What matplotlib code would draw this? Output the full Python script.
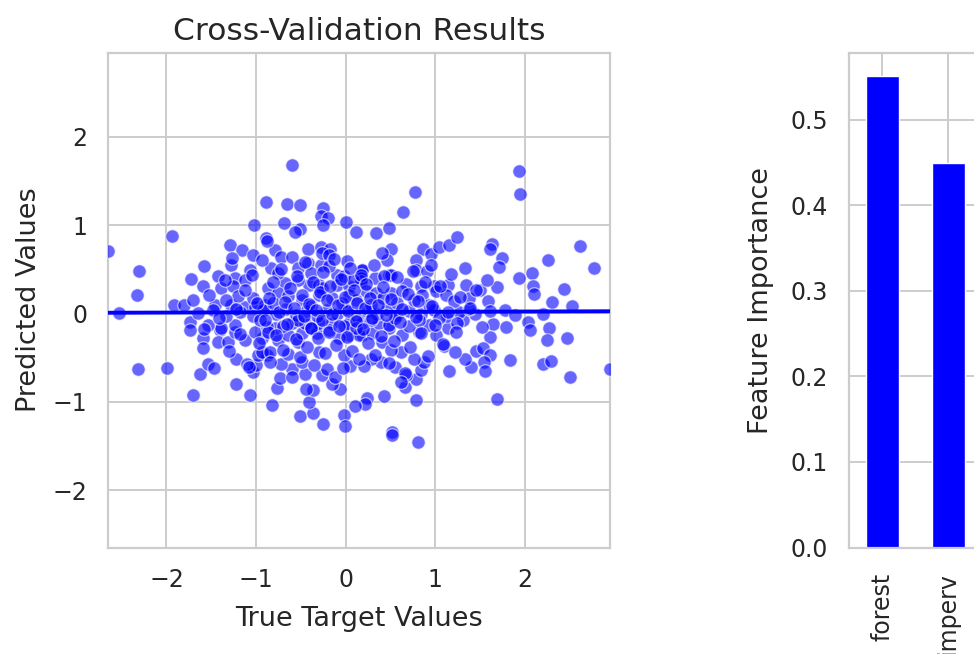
#!/usr/bin/env python3
"""
Cross-validation scatter (true vs predicted) with a linear fit,
plus a feature-importance bar chart that runs off the right edge.
"""

import matplotlib
matplotlib.use("Agg")
import matplotlib.pyplot as plt
import numpy as np
import seaborn as sns

# true target values (x) and cross-validated predictions (y)
true_vals = [
    -0.603, -0.890, -0.659, -0.513, -0.258, -0.273, -0.199, -1.018, -0.688, 0.003,
    0.112, -0.513, -0.565, -0.258, -1.938, -0.890, -2.649, -1.287, -1.156, -1.033,
    -0.789, -0.722, -0.603, -0.423, -0.273, -0.180, -2.304, -1.582, -1.725, -1.276,
    -1.070, -0.838, -0.535, -0.423, -0.273, -0.098, 0.015, -2.331, 1.930, 1.945,
    0.774, 0.643, 0.340, 0.483, 0.502, 0.864, 0.951, 1.036, 1.156, 1.242,
    1.635, 1.605, 1.747, 1.709, 1.328, 0.789, 0.789, 0.912, 0.457, 0.176,
    2.615, 2.252, 2.775, 2.073, 1.930, 2.084, 2.435, 1.691, 1.501, 1.343,
    1.137, 0.325, 0.483, 0.670, 0.838, 0.980, 2.099, 2.297, 2.525, 1.586,
    1.773, 2.203, 2.035, 2.054, 1.642, 1.785, 2.267, 2.248, 2.469, 1.605,
    1.456, 1.530, 1.605, 1.538, 1.833, 1.400, 1.549, 1.148, 1.100, 2.203,
    2.290, 2.506, 2.952, 1.691, 1.007, 1.137, 1.313, 0.789, 0.426, 0.239,
    0.213, 0.109, -0.022, -0.011, 0.513, 0.520, 0.808, 0.662, 0.782, 0.838,
    0.875, 0.670, 0.550, 0.763, 0.614, 0.389, 0.277, 0.202, 0.053, -0.059,
    -0.022, 0.407, 0.819, -2.529, -2.323, -1.994, -1.706, -1.631, -1.538, -1.220,
    -1.070, -1.220, -1.033, -0.823, -0.763, -0.733, -0.508, -0.367, -0.258, -0.407,
    -0.370, -0.452, -0.603, -0.722, -0.996, -0.883, -0.976, -1.100, -0.266, -0.154,
    -0.210, -0.303, -1.594, -1.594, -1.406, -1.425, -1.313, -1.743, -1.743, -1.911,
    -1.799, -1.706, -1.238, -1.126, -0.939, -0.752, -0.640, -0.527, -0.789, -1.425,
    -1.238, -1.126, -1.594, -1.388, -1.257, -0.864, -1.462, -1.276, -1.126, -1.013,
    -0.901, -1.238, -1.388, -1.538, -1.013, -0.883, -0.939, -0.845, -0.266, -0.191,
    0.183, 0.172, 0.172, 0.502, 0.426, -0.677, -0.415, -0.303, -0.266, -0.098,
    0.034, -0.752, -0.490, -0.303, 0.034, 0.221, 0.333, 0.502, 0.632, 0.856,
    1.007, 1.119, -0.116, -0.490, -0.640, 0.502, 0.183, 0.295, 0.483, 0.632,
    0.034, 0.146, -0.079, -0.322, -0.490, -0.864, -0.603, -0.452, -0.303, -0.154,
    0.034, 0.183, 0.370, 0.483, 0.707, 0.932, -1.650, -1.481, -1.336, -1.178,
    -1.033, -0.920, -0.774, -0.662, -0.550, -0.438, -0.325, -0.213, -0.101, 0.011,
    0.123, 0.236, 0.348, 0.460, 0.572, 0.707, 0.842, 0.988, 1.134, 1.268,
    1.437, 1.605, 1.380, 1.886, -1.033, -0.808, -0.640, -0.382, -0.157, -0.045,
    0.112, 0.281, 0.415, 0.572, 0.763, 0.932, 1.212, 1.380, -0.954, -0.696,
    -0.527, -0.393, -0.191, -0.022, 0.112, 0.281, 0.550, 0.819, 1.044, 1.246,
    -1.201, -1.336, -0.527, -0.752, -0.393, -0.022, 0.079, -0.191,
    # dense core
    -1.52, -1.41, -1.35, -1.30, -1.22, -1.18, -1.12, -1.08, -1.05, -0.99,
    -0.97, -0.93, -0.90, -0.86, -0.84, -0.81, -0.78, -0.75, -0.72, -0.70,
    -0.68, -0.65, -0.62, -0.60, -0.58, -0.56, -0.54, -0.51, -0.49, -0.47,
    -0.45, -0.43, -0.41, -0.39, -0.37, -0.35, -0.33, -0.31, -0.29, -0.27,
    -0.25, -0.23, -0.21, -0.19, -0.17, -0.15, -0.13, -0.11, -0.09, -0.07,
    -0.05, -0.03, -0.01, 0.01, 0.03, 0.05, 0.07, 0.09, 0.11, 0.13,
    0.15, 0.17, 0.19, 0.21, 0.23, 0.25, 0.27, 0.29, 0.31, 0.33,
    0.36, 0.39, 0.42, 0.45, 0.48, 0.51, 0.54, 0.57, 0.60, 0.63,
    0.66, 0.69, 0.72, 0.75, 0.78, 0.81, 0.84, 0.88, 0.92, 0.96,
    1.00, 1.05, 1.09, 1.14, 1.18, 1.23, 1.28, 1.33, 1.39, 1.45,
    1.52, 1.58, -1.58, -1.47, -1.27, -0.88, 0.41, 0.62, -0.44, 0.95,
    1.22,
]
pred_vals = [
    1.681, 1.261, 1.233, 1.226, 1.196, 1.101, 1.074, 1.006, 1.025, 1.033,
    0.919, 0.957, 0.919, 1.006, 0.877, 0.854, 0.710, 0.771, 0.714, 0.658,
    0.721, 0.638, 0.638, 0.733, 0.752, 0.733, 0.476, 0.532, 0.391, 0.551,
    0.494, 0.513, 0.513, 0.567, 0.551, 0.430, 0.589, 0.209, 1.609, 1.352,
    1.374, 1.150, 0.911, 0.968, 0.733, 0.733, 0.672, 0.752, 0.771, 0.862,
    0.790, 0.733, 0.627, 0.521, 0.513, 0.608, 0.494, 0.476, 0.608, 0.494,
    0.767, 0.604, 0.513, 0.456, 0.399, 0.305, 0.271, 0.294, 0.263, 0.323,
    0.323, 0.399, 0.437, 0.331, 0.305, 0.305, 0.221, 0.126, 0.089, 0.146,
    0.039, -0.007, -0.101, -0.189, -0.116, -0.150, -0.166, -0.303, -0.280, -0.264,
    -0.428, -0.389, -0.473, -0.548, -0.522, -0.610, -0.647, -0.647, -0.371, -0.568,
    -0.542, -0.724, -0.633, -0.974, -0.246, -0.170, -0.075, -0.977, -0.940, -0.955,
    -1.023, -1.049, -1.145, -1.270, -1.345, -1.372, -1.455, -0.833, -0.738, -0.644,
    -0.548, -0.701, -0.605, -0.511, -0.435, -0.548, -0.519, -0.594, -0.594, -0.852,
    -0.473, -0.321, -0.207, 0.001, -0.625, -0.613, -0.920, -0.689, -0.568, -0.795,
    -0.920, -0.511, -0.662, -1.031, -0.844, -0.730, -1.156, -1.125, -1.250, -1.003,
    -0.871, -0.681, -0.625, -0.571, -0.587, -0.473, -0.473, -0.568, -0.701, -0.795,
    -0.625, -0.435, -0.283, -0.389, -0.189, -0.321, -0.321, -0.093, -0.189, 0.096,
    0.096, 0.152, -0.207, -0.303, -0.283, -0.303, -0.246, -0.321, -0.170, 0.419,
    0.399, 0.380, 0.305, 0.286, 0.305, 0.286, 0.096, 0.096, 0.077, 0.077,
    0.096, -0.132, -0.170, -0.132, -0.207, -0.150, -0.435, -0.435, 0.684, 0.664,
    0.494, 0.399, 0.362, 0.437, 0.419, 0.342, 0.323, 0.323, 0.286, 0.323,
    0.305, 0.229, 0.152, 0.209, 0.209, 0.248, 0.229, 0.229, 0.248, 0.209,
    0.248, 0.209, -0.719, -0.548, -0.454, -0.416, -0.246, -0.226, -0.170, -0.246,
    -0.246, -0.246, -0.283, -0.226, -0.226, -0.207, -0.113, -0.113, -0.113, -0.113,
    -0.113, -0.113, -0.113, -0.132, -0.147, -0.132, 0.001, 0.035, -0.033, 0.013,
    -0.033, 0.035, -0.010, 0.047, -0.022, 0.024, -0.033, 0.035, -0.010, 0.047,
    -0.033, 0.024, -0.010, 0.047, -0.022, 0.024, -0.010, 0.035, -0.033, 0.013,
    -0.010, 0.024, 0.047, -0.022, 0.172, 0.115, 0.195, 0.081, 0.172, 0.115,
    0.149, 0.092, 0.172, 0.115, 0.149, 0.092, 0.138, 0.172, -0.078, -0.146,
    -0.078, -0.169, -0.192, -0.146, -0.169, -0.078, -0.056, -0.078, -0.056, -0.113,
    0.195, 0.149, 0.377, 0.456, 0.456, 0.422, 0.377, 0.536,
    # dense core
    0.21, -0.05, 0.38, -0.42, 0.05, -0.23, 0.27, -0.61, 0.44, 0.12,
    -0.33, 0.61, -0.07, 0.18, -0.55, 0.35, -0.24, 0.02, 0.50, -0.41,
    0.13, -0.12, 0.29, -0.72, 0.06, -0.29, 0.42, -0.49, 0.21, -0.03,
    0.58, -0.38, 0.11, -0.17, 0.36, -0.58, 0.04, -0.28, 0.24, -0.08,
    0.47, -0.45, 0.15, -0.21, 0.31, -0.01, 0.62, -0.36, 0.09, -0.14,
    0.39, -0.62, 0.19, -0.27, 0.03, 0.51, -0.42, 0.27, -0.09, 0.12,
    -0.52, 0.44, -0.18, 0.06, 0.33, -0.33, 0.17, -0.05, 0.55, -0.47,
    0.10, -0.25, 0.30, -0.02, -0.56, 0.16, -0.31, 0.41, -0.10, 0.05,
    -0.67, 0.22, -0.38, 0.48, -0.04, 0.14, -0.22, 0.36, -0.48, 0.08,
    -0.13, 0.31, -0.35, 0.02, 0.45, -0.21, 0.19, -0.52, 0.06, 0.27,
    -0.15, 0.38, -0.18, -0.62, 0.63, 0.82, 0.68, -0.78, -0.85, 0.55,
    -0.44,
]

features = ["forest", "imperv"]
importances = [0.551, 0.449]


def main() -> None:
    sns.set_theme(style="whitegrid")
    plt.rcParams["font.family"] = ["DejaVu Sans"]
    plt.rcParams["axes.edgecolor"] = ".8"
    plt.rcParams["axes.linewidth"] = 1.6
    plt.rcParams["grid.linewidth"] = 1.4

    x = np.asarray(true_vals)
    y = np.asarray(pred_vals)

    fig = plt.figure(figsize=(9.74, 6.54), dpi=100)

    # --- left: true vs predicted
    ax = fig.add_axes([0.1112, 0.1628, 0.5154, 0.7569])
    ax.scatter(x, y, s=95, color="blue", alpha=0.6, edgecolor="white", linewidth=0.9, zorder=3)

    lims = (x.min(), x.max())
    slope, intercept = np.polyfit(x, y, 1)
    xs = np.array(lims)
    ax.plot(xs, slope * xs + intercept, color="blue", linewidth=2.8, zorder=4)

    ax.set_xlim(lims)
    ax.set_ylim(lims)
    ax.set_xticks([-2, -1, 0, 1, 2])
    ax.set_yticks([-2, -1, 0, 1, 2])
    ax.tick_params(labelsize=17, colors=".15", pad=9)
    ax.set_xlabel("True Target Values", fontsize=19.5, color=".15", labelpad=10)
    ax.set_ylabel("Predicted Values", fontsize=19.5, color=".15", labelpad=8)
    ax.set_title("Cross-Validation Results", fontsize=22.5, color=".15", pad=9)

    # --- right: feature importance (cut off by the figure edge)
    ax2 = fig.add_axes([0.8717, 0.1628, 0.1355, 0.7569])
    pos = np.arange(len(features))
    ax2.bar(pos, importances, width=0.5, color="blue")
    ax2.set_xlim(-0.5, len(features) - 0.5)
    ax2.set_xticks(pos)
    ax2.set_xticklabels(features, rotation=90)
    ax2.tick_params(labelsize=17, colors=".15", pad=9)
    ax2.tick_params(axis="x", pad=12)
    ax2.set_ylabel("Feature Importance", fontsize=19.5, color=".15", labelpad=12)

    fig.savefig("out.png", dpi=100)
    plt.close(fig)


if __name__ == "__main__":
    main()
